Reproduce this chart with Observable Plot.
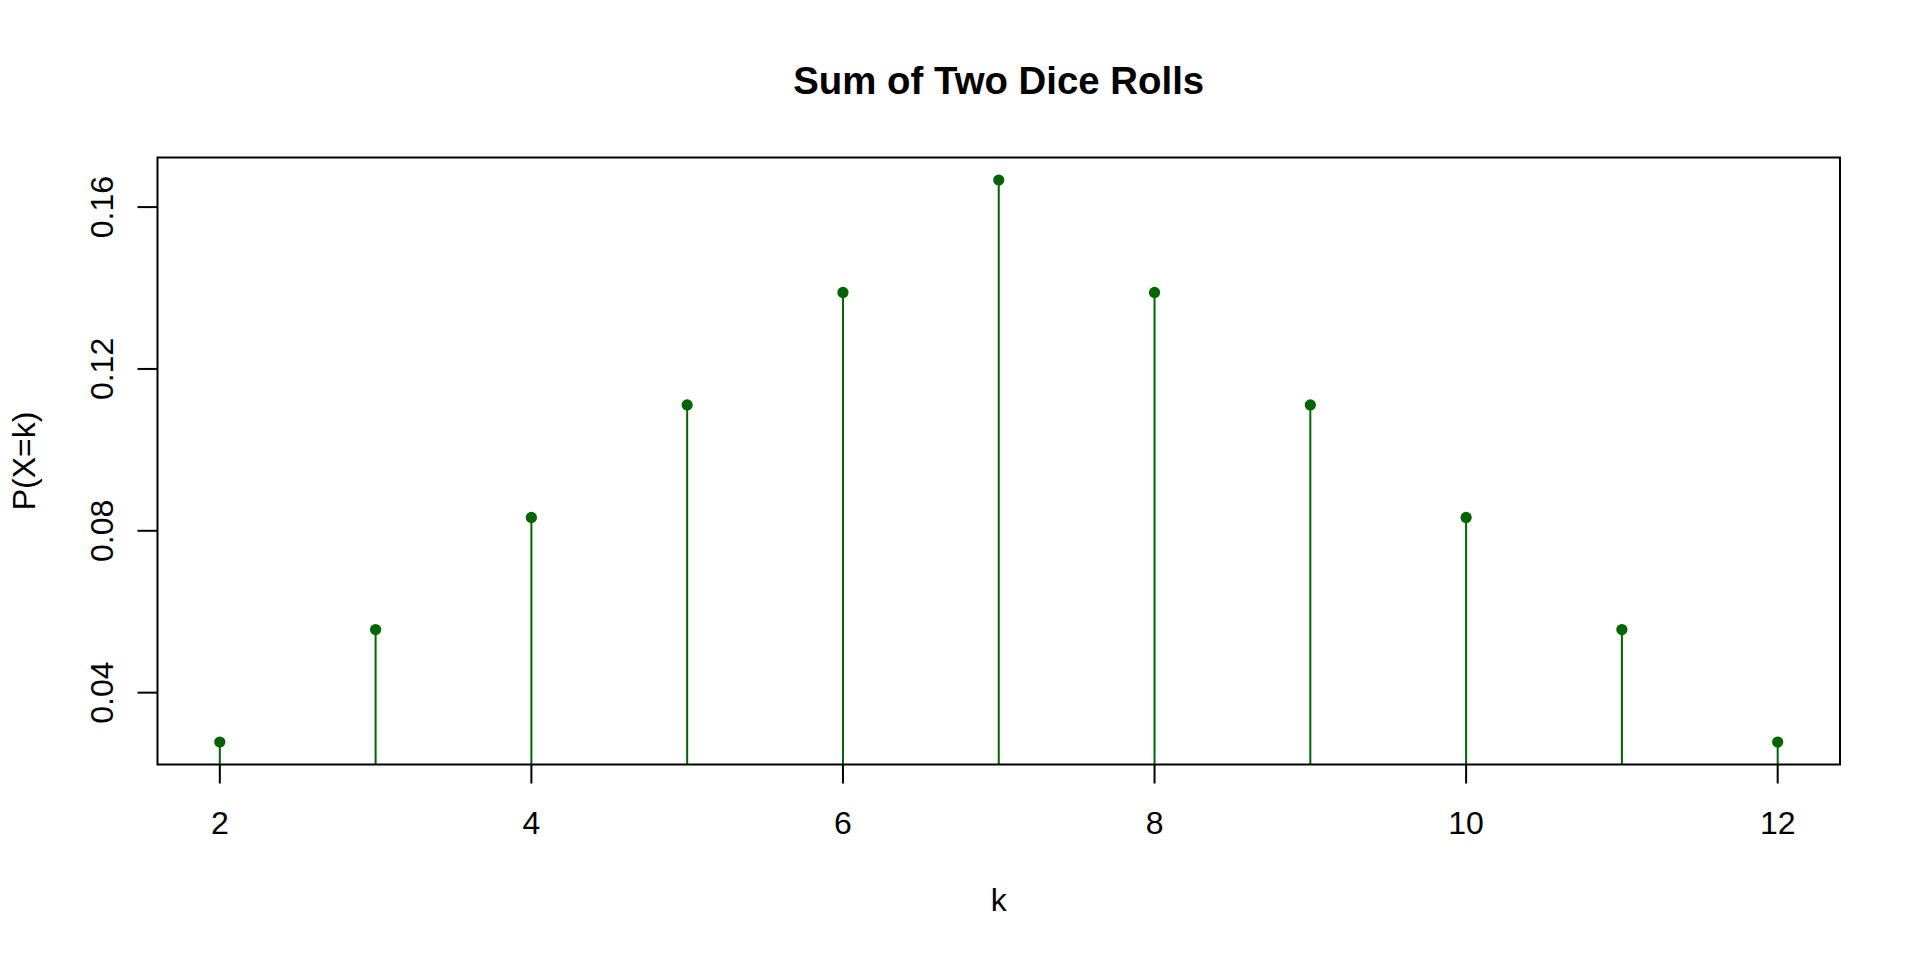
<!DOCTYPE html>
<html>
<head>
<meta charset="utf-8">
<script src="https://cdn.jsdelivr.net/npm/d3@7"></script>
<script src="https://cdn.jsdelivr.net/npm/@observablehq/plot@0.6"></script>
<style>
  html, body { margin: 0; padding: 0; background: #fff; }
  #chart svg { display: block; }
</style>
</head>
<body>
<div id="chart"></div>
<script>
const sums = [2, 3, 4, 5, 6, 7, 8, 9, 10, 11, 12];
const probs = [0.0278, 0.0556, 0.0833, 0.1111, 0.1389, 0.1667, 0.1389, 0.1111, 0.0833, 0.0556, 0.0278];
const xTicks = [2, 4, 6, 8, 10, 12];
const yTicks = [0.04, 0.08, 0.12, 0.16];
const yTickLabels = ["0.04", "0.08", "0.12", "0.16"];
const title = "Sum of Two Dice Rolls";
const xLabel = "k";
const yLabel = "P(X=k)";

const data = sums.map((k, i) => ({k, p: probs[i]}));
const yTickData = yTicks.map((v, i) => ({v, label: yTickLabels[i]}));

// R-style 4% axis extension
const ext = (lo, hi) => { const r = hi - lo; return [lo - 0.04 * r, hi + 0.04 * r]; };
const xDom = ext(d3.min(sums), d3.max(sums));
const yDom = ext(d3.min(probs), d3.max(probs));

const green = "#006400";
const font = "'Liberation Sans', Arial, Helvetica, sans-serif";

const chart = Plot.plot({
  width: 1920,
  height: 960,
  marginTop: 157,
  marginBottom: 196,
  marginLeft: 157,
  marginRight: 80.5,
  style: {fontFamily: font, background: "#fff", color: "#000"},
  x: {domain: xDom, label: null},
  y: {domain: yDom, label: null},
  marks: [
    Plot.ruleX(data, {x: "k", y1: 0, y2: "p", stroke: green, strokeWidth: 2, clip: true}),
    Plot.dot(data, {x: "k", y: "p", r: 5.6, fill: green, stroke: "none"}),
    Plot.frame({stroke: "#000", strokeWidth: 2}),
    Plot.axisX({ticks: xTicks, tickSize: 19.5, tickPadding: 27.5, fontSize: 32, strokeWidth: 2, stroke: "#000", fill: "#000", label: null, tickFormat: d => String(d)}),
    Plot.axisY({ticks: yTicks, tickSize: 19.5, strokeWidth: 2, stroke: "#000", label: null, tickFormat: () => ""}),
    Plot.text(yTickData, {y: "v", text: "label", frameAnchor: "left", dx: -67.5, rotate: -90, textAnchor: "middle", lineAnchor: "top", fontSize: 32, fill: "#000"}),
    Plot.text([title], {frameAnchor: "top", dy: -91, lineAnchor: "top", textAnchor: "middle", fontSize: 38.4, fontWeight: "bold", fill: "#000"}),
    Plot.text([xLabel], {frameAnchor: "bottom", dy: 124, lineAnchor: "top", textAnchor: "middle", fontSize: 32, fill: "#000"}),
    Plot.text([yLabel], {frameAnchor: "left", dx: -145, rotate: -90, lineAnchor: "top", textAnchor: "middle", fontSize: 32, fill: "#000"})
  ]
});
document.getElementById("chart").appendChild(chart);
</script>
</body>
</html>
